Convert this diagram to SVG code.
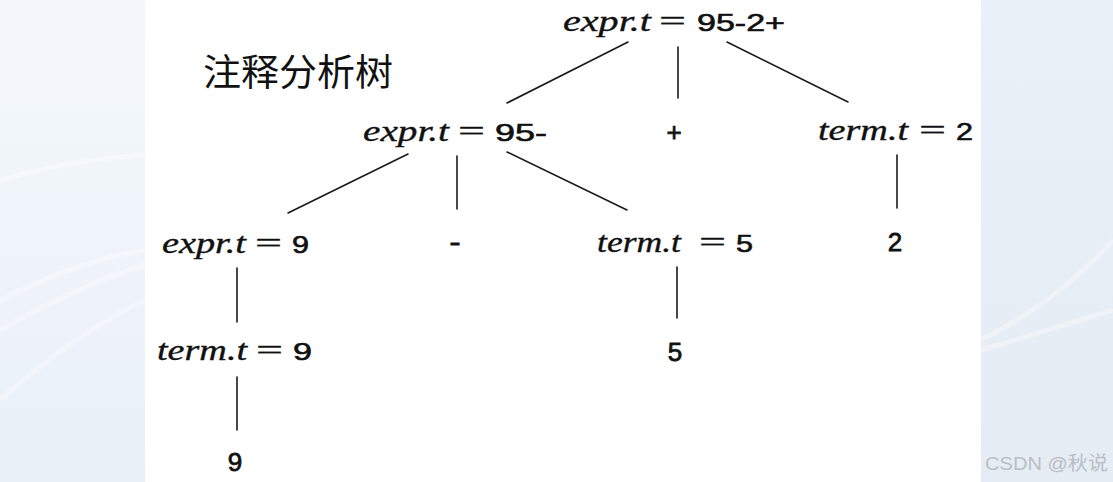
<svg xmlns="http://www.w3.org/2000/svg" width="1113" height="482" viewBox="0 0 1113 482">
<style>
.it{font-family:"Liberation Serif","DejaVu Serif",serif;font-style:italic;font-size:30px;fill:#111;stroke:#111;stroke-width:0.35}
.eq{font-family:"Liberation Serif","DejaVu Serif",serif;font-size:30px;fill:#111;stroke:#111;stroke-width:0.3}
.sf{font-family:"Liberation Sans",Arial,sans-serif;font-size:24px;fill:#111;stroke:#111;stroke-width:0.6}
.sy{font-family:"Liberation Sans",Arial,sans-serif;font-size:26px;fill:#111;stroke:#111;stroke-width:0.8}
.cn{font-family:"Noto Sans CJK SC",sans-serif;font-size:37px;font-weight:400;fill:#111}
.wm{font-family:"Liberation Sans","Noto Sans CJK SC",sans-serif;font-size:19px;fill:#b9bec6}
#connectors line{stroke:#1a1a1a;stroke-width:1.6;stroke-linecap:round}
</style>
<defs>
<linearGradient id="bgL" x1="0" y1="0" x2="0" y2="1">
<stop offset="0" stop-color="#f4f8fc"/>
<stop offset="1" stop-color="#e9f0f7"/>
</linearGradient>
<linearGradient id="bgR" x1="0" y1="0" x2="0" y2="1">
<stop offset="0" stop-color="#eaf0f8"/>
<stop offset="1" stop-color="#e6ecf4"/>
</linearGradient>
</defs>
<rect x="0" y="0" width="145" height="482" fill="url(#bgL)"/>
<rect x="981" y="0" width="132" height="482" fill="url(#bgR)"/>
<g fill="none" stroke="#ffffff" stroke-opacity="0.35" stroke-width="5">
<path d="M0 180 Q70 160 145 155"/>
<path d="M0 300 Q80 260 145 250"/>
<path d="M0 330 Q90 280 145 265"/>
<path d="M0 400 Q80 330 145 300"/>
<path d="M981 350 Q1050 330 1113 310"/>
<path d="M981 340 Q1060 300 1113 240"/>
</g>
<rect x="145" y="0" width="836" height="480" fill="#ffffff"/>
<text class="cn" x="203" y="86" textLength="190" lengthAdjust="spacingAndGlyphs">注释分析树</text>
<g id="connectors">
<line x1="628" y1="42" x2="507" y2="103"/>
<line x1="678" y1="47" x2="678" y2="98"/>
<line x1="727" y1="42" x2="848" y2="102"/>
<line x1="408" y1="154" x2="288" y2="213"/>
<line x1="457" y1="156" x2="457" y2="209"/>
<line x1="507" y1="152" x2="627" y2="210"/>
<line x1="897" y1="155" x2="897" y2="208"/>
<line x1="237" y1="268" x2="237" y2="322"/>
<line x1="237" y1="377" x2="237" y2="430"/>
<line x1="677" y1="267" x2="677" y2="318"/>
</g>
<g id="nA">
<text class="it" x="563" y="31" textLength="88" lengthAdjust="spacingAndGlyphs">expr.t</text>
<text class="eq" x="659" y="31" textLength="27" lengthAdjust="spacingAndGlyphs">=</text>
<text class="sf" x="697" y="31" textLength="88" lengthAdjust="spacingAndGlyphs">95-2+</text>
</g>
<g id="nB">
<text class="it" x="363" y="141" textLength="86" lengthAdjust="spacingAndGlyphs">expr.t</text>
<text class="eq" x="458" y="141" textLength="27" lengthAdjust="spacingAndGlyphs">=</text>
<text class="sf" x="495" y="141" textLength="52" lengthAdjust="spacingAndGlyphs">95-</text>
</g>
<g id="nC">
<text class="sy" x="674" y="141" text-anchor="middle">+</text>
</g>
<g id="nD">
<text class="it" x="818" y="140" textLength="90" lengthAdjust="spacingAndGlyphs">term.t</text>
<text class="eq" x="919" y="140" textLength="27" lengthAdjust="spacingAndGlyphs">=</text>
<text class="sf" x="956" y="140" textLength="17" lengthAdjust="spacingAndGlyphs">2</text>
</g>
<g id="nE">
<text class="it" x="162" y="253" textLength="84" lengthAdjust="spacingAndGlyphs">expr.t</text>
<text class="eq" x="255" y="253" textLength="27" lengthAdjust="spacingAndGlyphs">=</text>
<text class="sf" x="292" y="253" textLength="17" lengthAdjust="spacingAndGlyphs">9</text>
</g>
<g id="nF">
<text class="sy" x="455" y="251" text-anchor="middle" textLength="11" lengthAdjust="spacingAndGlyphs">-</text>
</g>
<g id="nG">
<text class="it" x="597" y="252" textLength="84" lengthAdjust="spacingAndGlyphs">term.t</text>
<text class="eq" x="699" y="252" textLength="27" lengthAdjust="spacingAndGlyphs">=</text>
<text class="sf" x="736" y="252" textLength="17" lengthAdjust="spacingAndGlyphs">5</text>
</g>
<g id="nH">
<text class="sy" x="895" y="251" text-anchor="middle">2</text>
</g>
<g id="nI">
<text class="it" x="157" y="360" textLength="90" lengthAdjust="spacingAndGlyphs">term.t</text>
<text class="eq" x="256" y="360" textLength="27" lengthAdjust="spacingAndGlyphs">=</text>
<text class="sf" x="293" y="360" textLength="19" lengthAdjust="spacingAndGlyphs">9</text>
</g>
<g id="nJ">
<text class="sy" x="675" y="361" text-anchor="middle">5</text>
</g>
<g id="nK">
<text class="sy" x="235" y="471" text-anchor="middle">9</text>
</g>
<text class="wm" x="985" y="470" textLength="123" lengthAdjust="spacingAndGlyphs">CSDN @秋说</text>
</svg>
